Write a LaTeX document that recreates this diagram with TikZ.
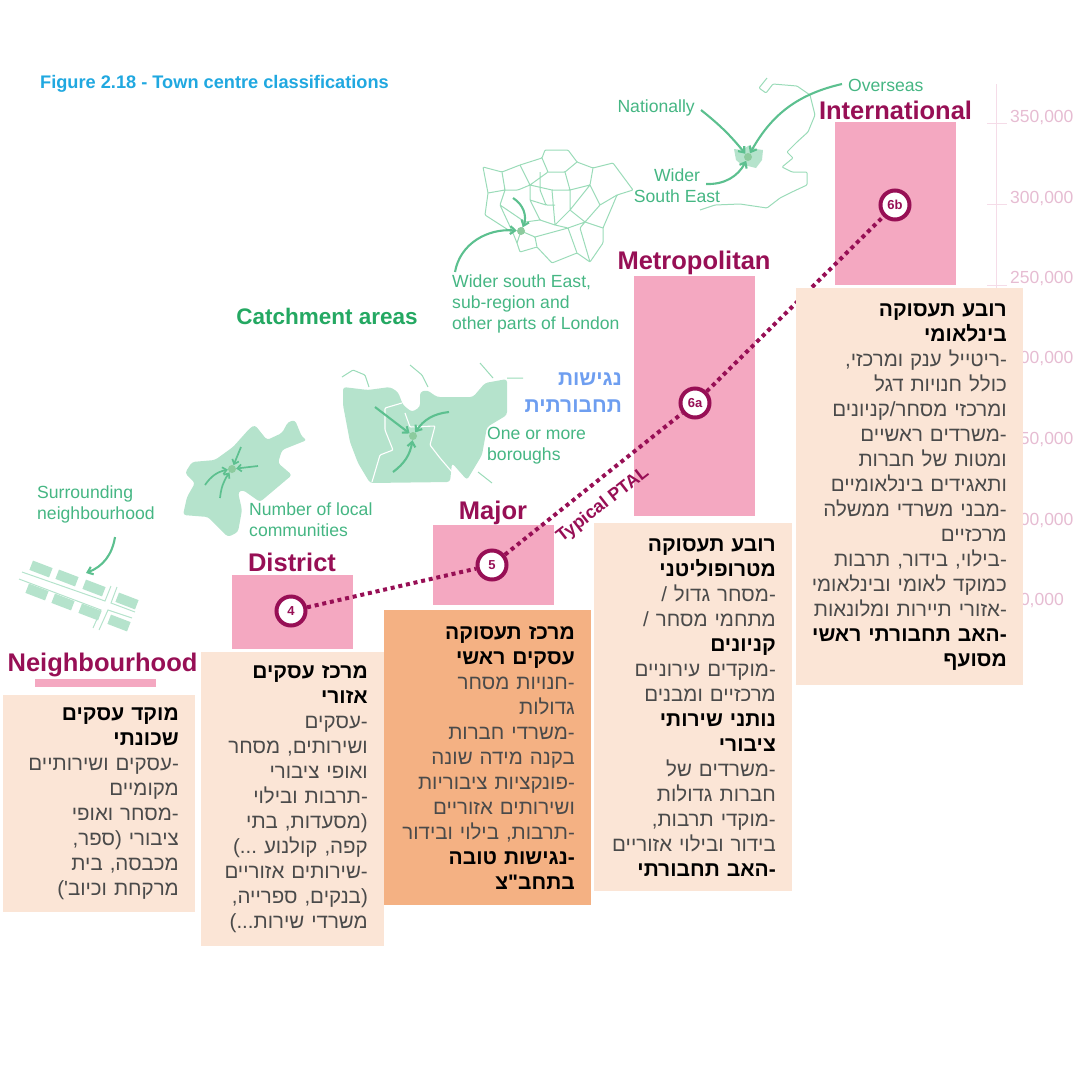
\documentclass[tikz,border=0pt]{standalone}
\usepackage{fontspec}
\usepackage{xcolor}
\usepackage{tikz}
\usetikzlibrary{arrows.meta,positioning}
\setmainfont{Liberation Sans}
\newfontfamily\hebfont[Script=Hebrew]{Liberation Sans}
\TeXXeTstate=1
\definecolor{maroon}{HTML}{970F55}
\definecolor{tierpink}{HTML}{F4A8C1}
\definecolor{peach}{HTML}{FBE5D6}
\definecolor{apricot}{HTML}{F4B183}
\definecolor{mapfill}{HTML}{B5E3CC}
\definecolor{mapline}{HTML}{9ADBB8}
\definecolor{arrowgreen}{HTML}{5CC08F}
\definecolor{labelgreen}{HTML}{45B683}
\definecolor{hubgreen}{HTML}{8CCB9E}
\definecolor{axispink}{HTML}{F5DCE8}
\definecolor{axistext}{HTML}{E6BCD2}
\definecolor{bodygray}{HTML}{4A4A4A}
\newcommand{\rl}[1]{\mbox{\fontsize{20.5}{25}\selectfont\color{bodygray}\beginR #1\endR\kern14pt}}
\newcommand{\rb}[1]{\mbox{\color{black}\bfseries\beginR #1\endR\kern14pt}}

\begin{document}
\begin{tikzpicture}[
    x=1pt, y=-1pt,
    node distance=0pt,
    tier/.style={fill=tierpink, inner sep=0pt, minimum width=121pt},
    tierhead/.style={font=\fontsize{25.5}{26}\selectfont\bfseries, text=maroon, inner sep=0pt, text height=19pt, text depth=6pt},
    panel/.style={fill=peach, anchor=north east, align=right, inner xsep=2pt, inner ysep=0pt, font=\hebfont\fontsize{21}{25}\selectfont},
    stopmark/.style={circle, draw=maroon, line width=4pt, fill=white, text=maroon, minimum size=29pt, inner sep=0pt, font=\fontsize{13}{13}\selectfont\bfseries},
    ptal/.style={maroon, line width=4pt, dash pattern=on 4pt off 3.8pt},
    reach/.style={font=\fontsize{17.6}{21}\selectfont, text=labelgreen, align=left, inner sep=0pt},
    feed/.style={-{Straight Barb[length=5pt,width=8pt]}, arrowgreen, line width=2.1pt},
    smallfeed/.style={-{Straight Barb[length=4pt,width=7pt]}, arrowgreen, line width=1.7pt},
    hub/.style={circle, fill=hubgreen, inner sep=0pt, minimum size=8pt},
    boundary/.style={mapline, line width=1pt, rounded corners=1pt},
    gapline/.style={white, line width=1.1pt, rounded corners=1pt},
    landfill/.style={mapfill, rounded corners=3pt},
    streetblock/.style={fill=mapfill, inner sep=0pt, minimum width=21pt, minimum height=10pt, rotate=-21},
    ticklabel/.style={font=\fontsize{17.5}{17.5}\selectfont, text=axistext, inner sep=0pt, anchor=west}
]
\useasboundingbox (0,0) rectangle (1080,1080);
\node[anchor=west, inner sep=0pt, font=\fontsize{18.2}{18.2}\selectfont\bfseries, text={rgb,255:red,32;green,168;blue,224}] (title) at (40,84) {Figure 2.18 - Town centre classifications};

\draw[axispink, line width=0.7pt] (996,84) -- (996,600);
\foreach \yb in {123,204,285,365,445,525,605}{
    \draw[axispink, line width=0.7pt] (987,\yb) -- (1007,\yb);
}
\node[ticklabel] (t350) at (1010,118) {350,000};
\node[ticklabel] (t300) at (1010,199) {300,000};
\node[ticklabel] (t250) at (1010,279) {250,000};
\node[ticklabel] (t200) at (1010,359) {200,000};
\node[ticklabel] (t150) at (1010,440) {150,000};
\node[ticklabel] (t100) at (1010,520) {100,000};
\node[ticklabel, anchor=east] (t50) at (1064,600) {50,000};

\draw[boundary] (767,78) -- (759,88) -- (766,93) -- (773,84) -- (797,86) -- (810,95) -- (813,107) -- (815,115) -- (808,132) -- (797,142) -- (787,152) -- (793,158) -- (782,167) -- (792,172) -- (807,172) -- (807,185) -- (792,192) -- (780,198) -- (767,208) -- (740,204) -- (715,205) -- (700,210);
\fill[mapfill] (734,149) -- (742,150) -- (748,146) -- (756,149) -- (763,150) -- (762,160) -- (756,168) -- (748,166) -- (742,165) -- (736,160) -- cycle;
\node[hub] (hubuk) at (748,157) {};
\node[reach, anchor=east] (nationally) at (695,108) {Nationally};
\node[reach, anchor=west] (overseas) at (848,85) {Overseas};
\node[reach, align=center] (southeast) at (677,186) {Wider\\South East};
\coordinate (natfrom) at (701,110);
\coordinate (overfrom) at (842,84);
\coordinate (sefrom) at (706,184);
\draw[feed] (natfrom) to[bend left=6] (hubuk);
\draw[feed] (overfrom) to[bend right=24] (hubuk);
\draw[feed] (sefrom) to[bend right=32] (hubuk);

\draw[boundary] (483,167) -- (502,172) -- (520,165) -- (542,158) -- (545,150) -- (568,150) -- (577,162) -- (593,168) -- (613,163) -- (633,190) -- (617,195) -- (612,207) -- (603,228) -- (603,243) -- (590,262) -- (577,253) -- (552,263) -- (537,247) -- (520,252) -- (517,243) -- (513,233) -- (485,215) -- (488,193) -- cycle;
\draw[boundary] (502,172) -- (505,190) -- (488,193) (520,165) -- (530,185) -- (518,190) -- (505,190) (542,158) -- (548,172) -- (530,185) (548,172) -- (565,172) -- (577,162) (565,172) -- (570,190) -- (552,190) -- (530,185) (570,190) -- (590,185) -- (593,168) (590,185) -- (600,205) -- (617,195) (600,205) -- (585,222) -- (570,210) -- (570,190) (585,222) -- (603,228) (585,222) -- (580,228) -- (590,262) (570,210) -- (555,225) -- (552,190) (555,225) -- (568,228) -- (577,253) (555,225) -- (540,220) -- (530,200) -- (530,185) (540,220) -- (525,222) -- (521,231) -- (517,243) (521,231) -- (535,237) -- (537,247) (535,237) -- (568,228) (505,190) -- (500,205) -- (513,233) (500,205) -- (525,222) (540,172) -- (540,190) -- (546,205) -- (555,205) (530,200) -- (546,205) (570,210) -- (578,200) -- (590,185) (568,228) -- (585,222);
\node[hub] (hublondon) at (521,231) {};
\node[reach, anchor=north west] (londonlabel) at (452,275) {Wider south East,\\sub-region and\\other parts of London};
\coordinate (widerfrom) at (455,272);
\coordinate (subfrom) at (513,198);
\draw[feed] (widerfrom) to[out=80, in=175] (hublondon);
\draw[feed] (subfrom) to[bend left=40] (hublondon);

\node[anchor=center, inner sep=0pt, font=\fontsize{22.5}{23}\selectfont\bfseries, text={rgb,255:red,36;green,168;blue,98}] (catchment) at (327,316) {Catchment areas};
\node[anchor=east, inner sep=0pt, align=right, font=\hebfont\fontsize{21}{27}\selectfont\bfseries, text={rgb,255:red,110;green,158;blue,240}] (access) at (622,393) {\mbox{\beginR נגישות\endR}\\\mbox{\beginR תחבורתית\endR}};

\fill[landfill] (343,387) -- (368,390) -- (390,387) -- (398,392) -- (403,405) -- (412,412) -- (420,407) -- (420,392) -- (427,390) -- (437,397) -- (473,397) -- (485,383) -- (507,379) -- (507,415) -- (487,427) -- (482,455) -- (467,480) -- (452,463) -- (450,482) -- (370,483) -- (358,463) -- (350,442) -- (343,405) -- cycle;
\draw[boundary] (342,377) -- (353,370) -- (365,375) -- (369,387) (410,365) -- (422,375) -- (428,387) (480,363) -- (493,378) (507,378) -- (523,378) (478,472) -- (492,483);
\draw[gapline] (402,403) -- (385,408) -- (385,430) -- (393,450) -- (380,455) -- (372,482) (405,413) -- (410,427) -- (435,426) -- (430,445) -- (440,458) -- (452,472);
\node[hub] (hubborough) at (413,436) {};
\node[reach, anchor=north west] (boroughlabel) at (487,427) {One or more\\boroughs};
\coordinate (bora) at (375,407);
\coordinate (borb) at (449,412);
\coordinate (borc) at (393,472);
\draw[feed] (bora) -- (hubborough);
\draw[feed] (borb) to[bend right=25] (hubborough);
\draw[feed] (borc) to[bend right=22] (hubborough);

\fill[landfill] (185,473) -- (192,462) -- (215,460) -- (233,447) -- (250,428) -- (255,425) -- (267,440) -- (282,433) -- (288,422) -- (295,420) -- (302,437) -- (307,440) -- (282,450) -- (278,463) -- (292,475) -- (260,502) -- (243,490) -- (238,492) -- (242,510) -- (238,532) -- (228,537) -- (208,517) -- (183,515) -- (187,497) -- (195,483) -- cycle;
\node[hub] (hubdistrict) at (232,469) {};
\node[reach, anchor=north west] (districtlabel) at (249,503) {Number of local\\communities};
\coordinate (disa) at (241,447);
\coordinate (disb) at (258,466);
\coordinate (disc) at (205,485);
\coordinate (disd) at (220,498);
\draw[smallfeed] (disa) -- (hubdistrict);
\draw[smallfeed] (disb) -- (hubdistrict);
\draw[smallfeed] (disc) to[bend left=22] (hubdistrict);
\draw[smallfeed] (disd) to[bend left=14] (hubdistrict);

\node[reach, anchor=north west] (surrounding) at (37,486) {Surrounding\\neighbourhood};
\foreach \i/\bx/\by in {a/41/569, b/67/578, c/94/588, d/127/601, e/37/592, f/63/602, g/90/612, h/119/623}{
    \node[streetblock] (block\i) at (\bx,\by) {};
}
\draw[mapfill, line width=1pt] (22,572) -- (105,601) -- (111,586) (117,587) -- (111,603) -- (135,612) (19,579) -- (101,610) -- (93,628) (132,618) -- (108,610) -- (99,630);
\coordinate (surroundfrom) at (115,537);
\coordinate (blockmark) at (86,573);
\draw[feed] (surroundfrom) to[bend left=30] (blockmark);

\node[tier, minimum height=163pt] (intl) at (895.5,203.5) {};
\node[tier, minimum height=240pt] (metro) at (694,396) {};
\node[tier, minimum height=80pt] (major) at (493,565) {};
\node[tier, minimum height=74pt] (district) at (292,612) {};
\node[tier, minimum height=8pt] (nbhd) at (95.5,683) {};
\node[tierhead, above=-4pt of intl] (intlhead) {International};
\node[tierhead, above=0pt of metro] (metrohead) {Metropolitan};
\node[tierhead, above=-1pt of major] (majorhead) {Major};
\node[tierhead, above=-3pt of district] (districthead) {District};
\node[tierhead, above=1pt of nbhd, xshift=7pt] (nbhdhead) {Neighbourhood};

\node[stopmark] (stopfour) at (291,611) {4};
\node[stopmark] (stopfive) at (492,565) {5};
\node[stopmark] (stopsixa) at (695,403) {6a};
\node[stopmark] (stopsixb) at (895,205) {6b};
\draw[ptal] (stopfour) -- (stopfive);
\draw[ptal] (stopfive) -- (stopsixa);
\draw[ptal] (stopsixa) -- (stopsixb);
\node[rotate=38, inner sep=0pt, text=maroon, font=\fontsize{18}{18}\selectfont\bfseries] (ptallabel) at (603,505) {Typical PTAL};

\node[panel, text width=188pt, minimum height=217pt] (nbhdpanel) at (195,695) {\rb{מוקד עסקים}\\\rb{שכונתי}\\\rl{-עסקים ושירותיים}\\\rl{מקומיים}\\\rl{-מסחר ואופי}\\\rl{ציבורי (ספר,}\\\rl{מכבסה, בית}\\\rl{מרקחת וכיוב')}};
\node[panel, text width=179pt, minimum height=294pt] (districtpanel) at (384,652) {\rb{מרכז עסקים}\\\rb{אזורי}\\\rl{-עסקים}\\\rl{ושירותים, מסחר}\\\rl{ואופי ציבורי}\\\rl{-תרבות ובילוי}\\\rl{(מסעדות, בתי}\\\rl{קפה, קולנוע ...)}\\\rl{-שירותים אזוריים}\\\rl{(בנקים, ספרייה,}\\\rl{משרדי שירות...)}};
\node[panel, fill=apricot, text width=203pt, minimum height=295pt] (majorpanel) at (591,610) {\rb{מרכז תעסוקה}\\\rb{עסקים ראשי}\\\rl{-חנויות מסחר}\\\rl{גדולות}\\\rl{-משרדי חברות}\\\rl{בקנה מידה שונה}\\\rl{-פונקציות ציבוריות}\\\rl{ושירותים אזוריים}\\\rl{-תרבות, בילוי ובידור}\\\rb{-נגישות טובה}\\\rb{בתחב"צ}};
\node[panel, text width=194pt, minimum height=368pt] (metropanel) at (792,523) {\rb{רובע תעסוקה}\\\rb{מטרופוליטני}\\\rl{-מסחר גדול /}\\\rl{מתחמי מסחר /}\\\rb{קניונים}\\\rl{-מוקדים עירוניים}\\\rl{מרכזיים ומבנים}\\\rb{נותני שירותי}\\\rb{ציבורי}\\\rl{-משרדים של}\\\rl{חברות גדולות}\\\rl{-מוקדי תרבות,}\\\rl{בידור ובילוי אזוריים}\\\rb{-האב תחבורתי}};
\node[panel, text width=223pt, minimum height=397pt] (intlpanel) at (1023,288) {\rb{רובע תעסוקה}\\\rb{בינלאומי}\\\rl{-ריטייל ענק ומרכזי,}\\\rl{כולל חנויות דגל}\\\rl{ומרכזי מסחר/קניונים}\\\rl{-משרדים ראשיים}\\\rl{ומטות של חברות}\\\rl{ותאגידים בינלאומיים}\\\rl{-מבני משרדי ממשלה}\\\rl{מרכזיים}\\\rl{-בילוי, בידור, תרבות}\\\rl{כמוקד לאומי ובינלאומי}\\\rl{-אזורי תיירות ומלונאות}\\\rb{-האב תחבורתי ראשי}\\\rb{מסועף}};
\end{tikzpicture}
\end{document}
